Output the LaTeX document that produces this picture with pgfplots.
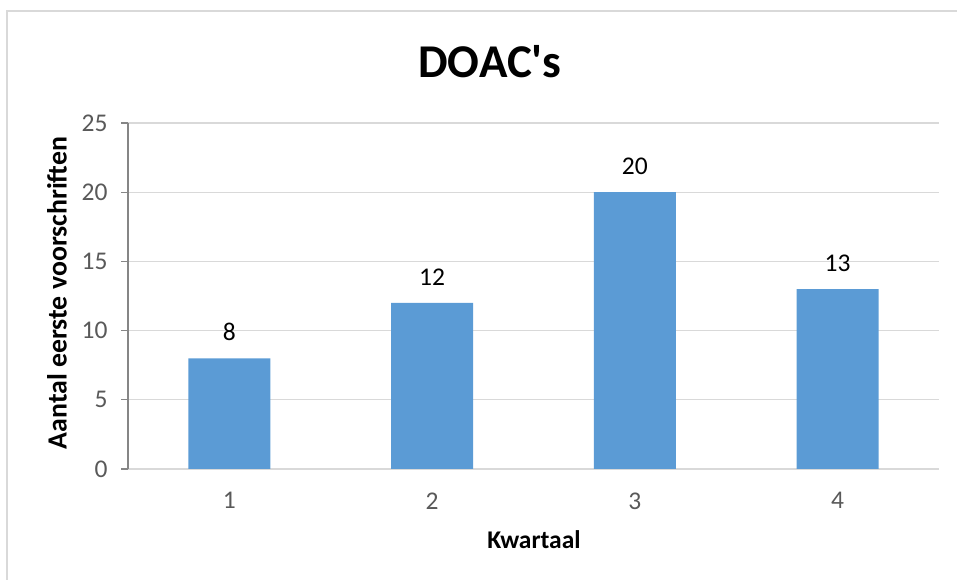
\documentclass[border=0pt]{standalone}
\usepackage{fontspec}
\setmainfont{Carlito}
\usepackage{pgfplots}
\pgfplotsset{compat=1.18}
\definecolor{barblue}{HTML}{5B9BD5}
\definecolor{gridgray}{HTML}{D9D9D9}
\definecolor{axisgray}{HTML}{868686}
\definecolor{ticktext}{HTML}{595959}
\begin{document}
\begin{tikzpicture}[x=1pt,y=1pt]
\path[use as bounding box] (0,0) rectangle (957,580);
\draw[gridgray, line width=1.5pt] (7,0) -- (7,569) -- (957,569);
\begin{axis}[
  at={(128pt,111pt)}, anchor=south west,
  scale only axis, width=811pt, height=346pt,
  xmin=0.5, xmax=4.5, ymin=0, ymax=25,
  xtick={1,2,3,4}, ytick={0,5,...,25},
  axis x line=bottom, axis y line=left,
  axis line style={-},
  x axis line style={gridgray, line width=1.3pt},
  y axis line style={axisgray, line width=1.3pt},
  ymajorgrids, grid style={gridgray, line width=1.3pt},
  major tick length=7pt, tick align=outside,
  xtick style={draw=none}, ytick style={axisgray, line width=1.3pt},
  tick label style={font=\fontsize{25.5}{30}\selectfont, text=ticktext},
  xticklabel style={yshift=-13pt},
  yticklabel style={xshift=-10pt},
  /pgf/number format/assume math mode=true,
  ybar, bar width=82pt,
  nodes near coords,
  nodes near coords style={font=\fontsize{25.5}{30}\selectfont, text=black, yshift=14pt},
]
\addplot[fill=barblue, draw=none] coordinates {(1,8) (2,12) (3,20) (4,13)};
\end{axis}
\node[font=\fontsize{47}{56}\selectfont\bfseries] at (490,518) {DOAC\textquotesingle s};
\node[font=\fontsize{25.5}{30}\selectfont\bfseries] at (534,40) {Kwartaal};
\node[font=\fontsize{27.8}{30}\selectfont\bfseries, rotate=90] at (57,287) {Aantal eerste voorschriften};
\end{tikzpicture}
\end{document}
